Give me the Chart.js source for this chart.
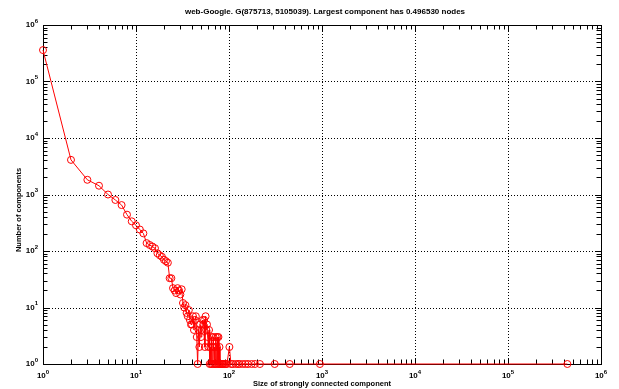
<!DOCTYPE html>
<html>
<head>
<meta charset="utf-8">
<script src="https://cdn.jsdelivr.net/npm/chart.js@4"></script>
<style>
  body { margin: 0; background: #fff; }
  canvas { display: block; }
</style>
</head>
<body>
<canvas id="myChart" width="619" height="389"></canvas>
<script>
// component size -> number of components of that size
var sizes = [1, 2, 3, 4, 5, 6, 7, 8, 9, 10, 11, 12, 13, 14, 15, 16, 17, 18, 19, 20,
  21, 22, 23, 24, 25, 26, 27, 28, 29, 30, 31, 32, 33, 34, 35, 36, 37, 38, 39, 40,
  41, 42, 43, 44, 45, 46, 47, 48, 49, 50, 51, 52, 53, 54, 55, 56, 57, 58, 59, 60,
  61, 62, 63, 64, 65, 66, 67, 68, 69, 70, 71, 72, 73, 74, 75, 76, 77, 78, 79, 80,
  82, 84, 85, 87, 90, 92, 95, 101, 105, 110, 118, 125, 130, 140, 150, 160, 175, 190, 215,
  310, 450, 950, 434818];
var counts = [360000, 4100, 1820, 1430, 1000, 800, 650, 440, 335, 285, 240, 205, 138, 128, 120, 112, 91, 84, 79, 70,
  66, 62, 33, 33, 22, 20, 18, 22, 20, 17, 21, 12, 10, 11, 8, 7, 9, 6, 5, 5,
  7, 4, 6, 7, 3, 1, 4, 2, 5, 3, 4, 6, 5, 6, 2, 7, 4, 5, 3, 2,
  4, 1, 2, 1, 3, 1, 2, 3, 1, 2, 1, 3, 1, 2, 3, 1, 3, 1, 2, 1,
  1, 1, 1, 1, 1, 1, 1, 2, 1, 1, 1, 1, 1, 1, 1, 1, 1, 1, 1,
  1, 1, 1, 1];
var decades = [0, 1, 2, 3, 4, 5, 6];

var titleText = "web-Google. G(875713, 5105039). Largest component has 0.496530 nodes";
var xTitle = "Size of strongly connected component";
var yTitle = "Number of components";

var FONT = "'Liberation Sans', Arial, Helvetica, sans-serif";

// matlab style axes: box, inward ticks, dotted decade grid, 10^n labels
var matlabAxes = {
  id: "matlabAxes",
  beforeDatasetsDraw: function (chart) {
    var c = chart.ctx, a = chart.chartArea;
    var xs = chart.scales.x, ys = chart.scales.y;
    c.save();
    // grid
    c.strokeStyle = "#000";
    c.lineWidth = 1;
    c.setLineDash([1, 2]);
    decades.forEach(function (e) {
      if (e === 0 || e === 6) return;
      var px = Math.round(xs.getPixelForValue(Math.pow(10, e))) + 0.5;
      c.beginPath(); c.moveTo(px, a.top); c.lineTo(px, a.bottom); c.stroke();
      var py = Math.round(ys.getPixelForValue(Math.pow(10, e))) + 0.5;
      c.beginPath(); c.moveTo(a.left, py); c.lineTo(a.right, py); c.stroke();
    });
    c.setLineDash([]);
    // ticks
    c.strokeStyle = "#000";
    decades.forEach(function (e) {
      if (e === 6) return;
      for (var m = 1; m <= 9; m++) {
        var v = m * Math.pow(10, e);
        var len = m === 1 ? 6 : 4.5;
        var px = Math.round(xs.getPixelForValue(v)) + 0.5;
        c.beginPath();
        c.moveTo(px, a.bottom); c.lineTo(px, a.bottom - len);
        c.moveTo(px, a.top); c.lineTo(px, a.top + len);
        c.stroke();
        var py = Math.round(ys.getPixelForValue(v)) + 0.5;
        c.beginPath();
        c.moveTo(a.left, py); c.lineTo(a.left + len, py);
        c.moveTo(a.right, py); c.lineTo(a.right - len, py);
        c.stroke();
      }
    });
    // box
    c.strokeRect(Math.round(a.left) + 0.5, Math.round(a.top) + 0.5,
      Math.round(a.right - a.left), Math.round(a.bottom - a.top));

    // tick labels
    c.fillStyle = "#000";
    c.textBaseline = "middle";
    decades.forEach(function (e) {
      var base = "10", ex = String(e);
      c.font = "bold 8px " + FONT;
      var wb = c.measureText(base).width;
      c.font = "bold 6px " + FONT;
      var we = c.measureText(ex).width;
      // x
      var px = xs.getPixelForValue(Math.pow(10, e));
      var x0 = px - (wb + we) / 2;
      c.textAlign = "left";
      c.font = "bold 8px " + FONT;
      c.fillText(base, x0, a.bottom + 12);
      c.font = "bold 6px " + FONT;
      c.fillText(ex, x0 + wb, a.bottom + 8);
      // y
      var py = ys.getPixelForValue(Math.pow(10, e));
      var xr = a.left - 5;
      c.font = "bold 8px " + FONT;
      c.fillText(base, xr - we - wb, py);
      c.font = "bold 6px " + FONT;
      c.fillText(ex, xr - we, py - 4);
    });

    // titles
    c.textAlign = "center";
    c.font = "bold 8px " + FONT;
    c.fillText(titleText, (a.left + a.right) / 2 + 3, 12);
    c.font = "bold 7.5px " + FONT;
    c.fillText(xTitle, (a.left + a.right) / 2, a.bottom + 20);
    c.save();
    c.translate(19, 210);
    c.rotate(-Math.PI / 2);
    c.fillText(yTitle, 0, 0);
    c.restore();
    c.restore();
  }
};

var points = sizes.map(function (s, i) { return { x: s, y: counts[i] }; });

var ctx = document.getElementById("myChart").getContext("2d");
var myChart = new Chart(ctx, {
  type: "line",
  data: {
    datasets: [{
      data: points,
      borderColor: "#ff0000",
      borderWidth: 1,
      backgroundColor: "rgba(0,0,0,0)",
      pointStyle: "circle",
      pointRadius: 3.5,
      pointBorderColor: "#ff0000",
      pointBackgroundColor: "rgba(0,0,0,0)",
      pointBorderWidth: 1,
      tension: 0,
      clip: false
    }]
  },
  options: {
    responsive: false,
    animation: false,
    layout: { padding: { left: 43, right: 18, top: 25, bottom: 25 } },
    plugins: { legend: { display: false }, tooltip: { enabled: false } },
    scales: {
      x: { type: "logarithmic", min: 1, max: 1e6, display: false },
      y: { type: "logarithmic", min: 1, max: 1e6, display: false }
    }
  },
  plugins: [matlabAxes]
});
</script>
</body>
</html>
